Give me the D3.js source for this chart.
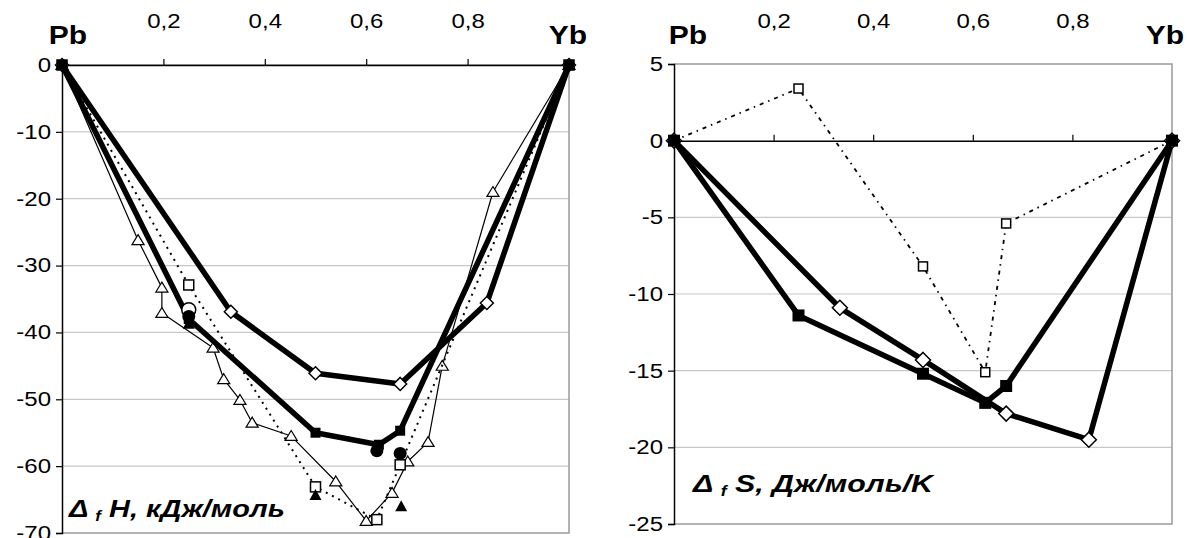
<!DOCTYPE html>
<html><head><meta charset="utf-8">
<script src="https://cdn.jsdelivr.net/npm/d3@7"></script>
<style>
html,body{margin:0;padding:0;background:#fff;}
svg text{font-family:"Liberation Sans",Arial,sans-serif;}
</style></head>
<body>
<svg id="c" width="1187" height="538"></svg>
<script>
// ---------- data ----------
const topTicks = [0.2, 0.4, 0.6, 0.8];
const hTicks = [0, -10, -20, -30, -40, -50, -60, -70];
const sTicks = [5, 0, -5, -10, -15, -20, -25];

// Left chart: ΔfH, kJ/mol
const hDiamX = [0, 0.333, 0.5, 0.667, 0.838, 1];
const hDiamY = [0, -36.9, -46.1, -47.7, -35.6, 0];
const hFSqX = [0, 0.25, 0.5, 0.625, 0.667, 1];
const hFSqY = [0, -38.0, -55.0, -56.8, -54.7, 0];
const hOSqX = [0, 0.25, 0.5, 0.621, 0.667, 1];
const hOSqY = [0, -32.9, -63.1, -68.0, -59.8, 0];
const hTriX = [0, 0.15, 0.197, 0.197, 0.298, 0.319, 0.351, 0.375, 0.452, 0.54, 0.6, 0.651, 0.682, 0.722, 0.75, 0.85, 1];
const hTriY = [0, -26.2, -33.3, -37.1, -42.3, -47.0, -50.1, -53.5, -55.5, -62.3, -68.2, -64.0, -59.3, -56.4, -45.0, -19.0, 0];
const hOCircX = [0.25];
const hOCircY = [-36.6];
const hFCircX = [0.25, 0.621, 0.667];
const hFCircY = [-37.6, -57.7, -58.1];
const hFTriX = [0.25, 0.5, 0.669];
const hFTriY = [-38.7, -64.3, -66.0];

// Right chart: ΔfS, J/mol/K
const sDiamX = [0, 0.333, 0.5, 0.667, 0.833, 1];
const sDiamY = [0, -10.9, -14.3, -17.8, -19.5, 0];
const sFSqX = [0, 0.25, 0.5, 0.625, 0.667, 1];
const sFSqY = [0, -11.4, -15.2, -17.1, -16.0, 0];
const sOSqX = [0, 0.25, 0.5, 0.625, 0.667, 1];
const sOSqY = [0, 3.4, -8.2, -15.1, -5.4, 0];

const fmt = d => String(d).replace(".", ",");
const STRETCH = 1.2;

// ---------- helpers ----------
const svg = d3.select("#c");
svg.append("rect").attr("width", 1187).attr("height", 538).attr("fill", "#fff");

function stretch(sel, f) {
  sel.each(function () {
    const len = this.getComputedTextLength();
    d3.select(this).attr("textLength", len * f).attr("lengthAdjust", "spacingAndGlyphs");
  });
}

function marker(g, type, x, y, s) {
  const k = s / 2;
  if (type === "diamond") {
    g.append("path").attr("d", `M${x},${y - k}L${x + k},${y}L${x},${y + k}L${x - k},${y}Z`)
      .attr("fill", "#fff").attr("stroke", "#000").attr("stroke-width", 1.5);
  } else if (type === "fsquare") {
    g.append("rect").attr("x", x - k).attr("y", y - k).attr("width", s).attr("height", s).attr("fill", "#000");
  } else if (type === "osquare") {
    g.append("rect").attr("x", x - k).attr("y", y - k).attr("width", s).attr("height", s)
      .attr("fill", "#fff").attr("stroke", "#000").attr("stroke-width", 1.5);
  } else if (type === "otri") {
    g.append("path").attr("d", `M${x},${y - k}L${x + k * 1.1},${y + k * 0.8}L${x - k * 1.1},${y + k * 0.8}Z`)
      .attr("fill", "#fff").attr("stroke", "#000").attr("stroke-width", 1.2);
  } else if (type === "ftri") {
    g.append("path").attr("d", `M${x},${y - k}L${x + k},${y + k * 0.85}L${x - k},${y + k * 0.85}Z`)
      .attr("fill", "#000");
  } else if (type === "fcirc") {
    g.append("circle").attr("cx", x).attr("cy", y).attr("r", k).attr("fill", "#000");
  } else if (type === "ocirc") {
    g.append("circle").attr("cx", x).attr("cy", y).attr("r", k).attr("fill", "#fff")
      .attr("stroke", "#000").attr("stroke-width", 1.5);
  }
}

function series(g, xs, ys, xS, yS, line, mk, ms) {
  const pts = xs.map((d, i) => [xS(d), yS(ys[i])]);
  if (line) {
    g.append("path").attr("d", d3.line()(pts)).attr("fill", "none")
      .attr("stroke", "#000").attr("stroke-width", line.w)
      .attr("stroke-linejoin", "round")
      .attr("stroke-dasharray", line.dash || null);
  }
  if (mk) pts.forEach(p => marker(g, mk, p[0], p[1], ms));
}

function frame(g, xS, yS, ticks, yDomain) {
  const [x0, x1] = xS.range();
  const yb = yS(yDomain[0]), yt = yS(yDomain[1]);
  ticks.forEach(t => {
    if (t === 0 || t === yDomain[0] || t === yDomain[1]) return;
    g.append("line").attr("x1", x0).attr("x2", x1).attr("y1", yS(t)).attr("y2", yS(t))
      .attr("stroke", "#c8c8c8").attr("stroke-width", 1.2);
  });
  g.append("path").attr("d", `M${x0},${yt}H${x1}V${yb}H${x0}`).attr("fill", "none")
    .attr("stroke", "#9a9a9a").attr("stroke-width", 1.5);
  const ya = g.append("g").attr("transform", `translate(${x0},0)`)
    .call(d3.axisLeft(yS).tickValues(ticks).tickSize(6).tickPadding(5).tickFormat(fmt));
  ya.select(".domain").attr("stroke", "#000").attr("stroke-width", 1.5);
  ya.selectAll(".tick line").attr("stroke", "#000").attr("stroke-width", 1.2);
  ya.selectAll("text").attr("font-size", 20).attr("font-family", "Liberation Sans, Arial, sans-serif").attr("fill", "#000");
  stretch(ya.selectAll("text"), STRETCH);
  const xa = g.append("g").attr("transform", `translate(0,${yS(0)})`)
    .call(d3.axisTop(xS).tickValues(topTicks).tickSizeInner(6).tickSizeOuter(0)
      .tickPadding(yS(0) - 28 - 6).tickFormat(fmt));
  xa.select(".domain").attr("stroke", "#000").attr("stroke-width", 1.5);
  xa.selectAll(".tick line").attr("stroke", "#000").attr("stroke-width", 1.2);
  xa.selectAll("text").attr("font-size", 20).attr("font-family", "Liberation Sans, Arial, sans-serif").attr("fill", "#000");
  stretch(xa.selectAll("text"), STRETCH);
}

function elLabels(g, xPb, xYb) {
  const a = g.append("text").attr("x", xPb).attr("y", 44).attr("text-anchor", "middle")
    .attr("font-size", 25).attr("font-weight", "bold").text("Pb");
  const b = g.append("text").attr("x", xYb).attr("y", 44).attr("text-anchor", "middle")
    .attr("font-size", 25).attr("font-weight", "bold").text("Yb");
  stretch(a, STRETCH);
  stretch(b, STRETCH);
}

function quantLabel(g, x, y, rest, width) {
  const t = g.append("text").attr("x", x).attr("y", y).attr("font-size", 24)
    .attr("font-weight", "bold").attr("font-style", "italic");
  t.append("tspan").text("Δ ");
  t.append("tspan").attr("font-size", 14).attr("dy", 4).text("f");
  t.append("tspan").attr("dy", -4).text(" " + rest);
  t.attr("textLength", width).attr("lengthAdjust", "spacingAndGlyphs");
}

// ---------- left chart ----------
const xL = d3.scaleLinear().domain([0, 1]).range([62, 569]);
const yL = d3.scaleLinear().domain([-70, 0]).range([533, 65]);
const gL = svg.append("g");
frame(gL, xL, yL, hTicks, [-70, 0]);
elLabels(gL, 68, 568);
series(gL, hTriX, hTriY, xL, yL, {w: 1.2}, "otri", 11);
series(gL, hOSqX, hOSqY, xL, yL, {w: 2, dash: "2,5"}, "osquare", 10);
series(gL, hDiamX, hDiamY, xL, yL, {w: 5.5}, "diamond", 13);
series(gL, hFSqX, hFSqY, xL, yL, {w: 5.5}, "fsquare", 10);
series(gL, hOCircX, hOCircY, xL, yL, null, "ocirc", 14);
series(gL, hFCircX, hFCircY, xL, yL, null, "fcirc", 13);
series(gL, hFTriX, hFTriY, xL, yL, null, "ftri", 12);
quantLabel(gL, 69, 517, "H, кДж/моль", 216);

// ---------- right chart ----------
const xR = d3.scaleLinear().domain([0, 1]).range([674, 1172]);
const yR = d3.scaleLinear().domain([-25, 5]).range([524, 64]);
const gR = svg.append("g");
frame(gR, xR, yR, sTicks, [-25, 5]);
elLabels(gR, 688, 1165);
series(gR, sOSqX, sOSqY, xR, yR, {w: 1.8, dash: "4,5,1.5,5"}, "osquare", 9);
series(gR, sDiamX, sDiamY, xR, yR, {w: 5.5}, "diamond", 15);
series(gR, sFSqX, sFSqY, xR, yR, {w: 5.5}, "fsquare", 12);
quantLabel(gR, 693, 492, "S, Дж/моль/K", 240);
</script>
</body></html>
